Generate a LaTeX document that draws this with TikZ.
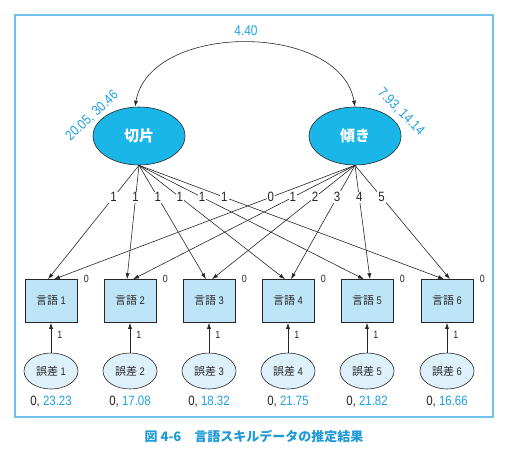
\documentclass[tikz,border=0pt]{standalone}
\usepackage{fontspec}
\setmainfont{Liberation Sans}[FakeStretch=0.85]
\newfontfamily\jp{Noto Sans CJK JP}
\usetikzlibrary{shapes.geometric,arrows.meta}
\definecolor{frameblue}{HTML}{6EC3EE}
\definecolor{latentblue}{HTML}{1BB6E8}
\definecolor{boxblue}{HTML}{BEE4F8}
\definecolor{errblue}{HTML}{DEF0FA}
\definecolor{numblue}{HTML}{1EA0E1}
\definecolor{capblue}{HTML}{1E9AD6}
\definecolor{edge}{HTML}{262626}
\tikzset{
  frame/.style={draw=frameblue,line width=1.3pt},
  latent/.style={ellipse,draw=edge,line width=0.6pt,fill=latentblue,minimum width=92pt,minimum height=58pt,inner sep=0pt,text=white,font=\jp\bfseries\fontsize{15}{15}\selectfont},
  obsbox/.style={rectangle,draw=edge,line width=0.6pt,fill=boxblue,minimum width=52pt,minimum height=43pt,inner sep=0pt,text=edge,font=\fontsize{11}{11}\selectfont},
  errnode/.style={ellipse,draw=edge,line width=0.6pt,fill=errblue,minimum width=54pt,minimum height=36pt,inner sep=0pt,text=edge,font=\fontsize{11}{11}\selectfont},
  arr/.style={draw=edge,line width=0.6pt,-{Latex[length=6pt,width=4pt]}},
  dblarr/.style={draw=edge,line width=0.6pt,{Latex[length=6pt,width=4pt]}-{Latex[length=6pt,width=4pt]}},
  lab/.style={fill=white,inner sep=1pt,text=edge,font=\fontsize{13.5}{13.5}\selectfont},
  small/.style={inner sep=0pt,text=edge,font=\fontsize{10.5}{10.5}\selectfont},
  val/.style={inner sep=0pt,text=edge,font=\fontsize{13.5}{13.5}\selectfont},
  rotval/.style={inner sep=0pt,text=numblue,font=\fontsize{14}{14}\selectfont},
}
\begin{document}
\begin{tikzpicture}[x=1pt,y=-1pt]
\useasboundingbox (0,0) rectangle (510,456);
\draw[frame] (15,15) rectangle (493,417);

\node[latent] (k1) at (139,136) {切片};
\node[latent] (k2) at (355,136) {傾き};

\draw[dblarr] ([xshift=-4pt]k1.north) .. controls +(15,-85) and +(-15,-85) .. (k2.north);
\node[rotval] (cov) at (246,31) {4.40};
\node[rotval,rotate=43] (v1) at (92,116) {20.05, 30.46};
\node[rotval,rotate=-45] (v2) at (401,112) {7.93, 14.14};

\foreach \i/\x/\v in {1/51/23.23,2/130/17.08,3/209/18.32,4/288/21.75,5/367/21.82,6/447/16.66}{
  \node[obsbox] (b\i) at (\x,301) {{\jp 言語} \i};
  \node[errnode] (e\i) at (\x,371) {{\jp 誤差} \i};
  \node[small] (z\i) at ([shift={(9pt,0pt)}]b\i.north east) {0};
  \draw[arr] (e\i.north) -- (b\i.south) node[small,pos=0.6,right=6pt] (o\i) {1};
  \node[val] (r\i) at (\x,402) {0, \textcolor{numblue}{\v}};
}

\foreach \i/\s in {1/0,2/1,3/2,4/3,5/4,6/5}{
  \draw[arr] (k2.south) -- ([xshift=3pt]b\i.north) node[lab,pos=0.28] (s\i) {\s};
}
\foreach \i in {1,...,6}{
  \draw[arr] (k1.south) -- ([xshift=-3pt]b\i.north) node[lab,pos=0.28] (l\i) {1};
}

\node[inner sep=0pt,text=capblue,font=\jp\bfseries\fontsize{13}{13}\selectfont] (cap) at (254,436) {図 4-6　言語スキルデータの推定結果};
\end{tikzpicture}
\end{document}
